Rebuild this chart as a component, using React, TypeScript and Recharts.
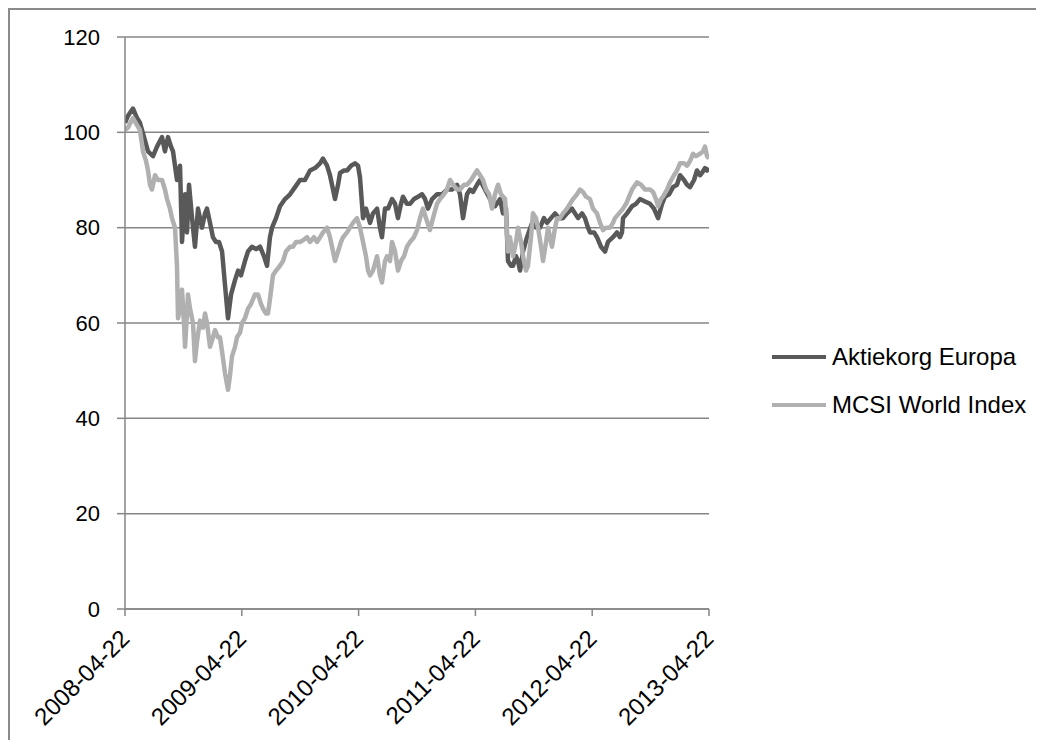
import React from "react";
import { LineChart, Line, XAxis, YAxis, CartesianGrid } from "recharts";

// x = years since 2008-04-22
const tickLabels = ["2008-04-22", "2009-04-22", "2010-04-22", "2011-04-22", "2012-04-22", "2013-04-22"];
const xTicks = [0, 1, 2, 3, 4, 5];
const yTicks = [0, 20, 40, 60, 80, 100, 120];
const seriesNames = ["Aktiekorg Europa", "MCSI World Index"];

const europaT = [
  0.000, 0.026, 0.068, 0.103, 0.128, 0.163, 0.197, 0.240, 0.274, 0.317, 0.342, 0.368, 0.394, 0.411, 0.445,
  0.471, 0.488, 0.514, 0.531, 0.548, 0.574, 0.599, 0.625, 0.659, 0.685, 0.702, 0.728, 0.753, 0.779, 0.805,
  0.831, 0.856, 0.882, 0.908, 0.942, 0.968, 0.993, 1.027, 1.053, 1.087, 1.122, 1.156, 1.190, 1.216, 1.241,
  1.259, 1.293, 1.327, 1.370, 1.413, 1.456, 1.498, 1.541, 1.584, 1.627, 1.670, 1.695, 1.730, 1.755, 1.781,
  1.798, 1.824, 1.841, 1.875, 1.901, 1.935, 1.969, 1.995, 2.012, 2.038, 2.063, 2.098, 2.123, 2.158, 2.183,
  2.200, 2.226, 2.252, 2.286, 2.312, 2.337, 2.363, 2.380, 2.414, 2.440, 2.474, 2.509, 2.543, 2.569, 2.594,
  2.629, 2.671, 2.714, 2.757, 2.800, 2.843, 2.868, 2.894, 2.928, 2.954, 2.980, 3.014, 3.040, 3.082, 3.125,
  3.168, 3.211, 3.236, 3.262, 3.279, 3.305, 3.322, 3.348, 3.365, 3.382, 3.408, 3.442, 3.485, 3.519, 3.553,
  3.587, 3.613, 3.647, 3.682, 3.716, 3.750, 3.784, 3.827, 3.853, 3.879, 3.913, 3.938, 3.964, 3.981, 4.016,
  4.041, 4.075, 4.110, 4.135, 4.178, 4.212, 4.238, 4.255, 4.264, 4.298, 4.341, 4.375, 4.409, 4.452, 4.495,
  4.529, 4.564, 4.598, 4.623, 4.658, 4.692, 4.726, 4.752, 4.786, 4.812, 4.838, 4.872, 4.897, 4.923, 4.940,
  4.966, 4.983, 5.000,
];
const europaValues = [
  102, 103.5, 105, 103, 102, 99, 96, 95, 97, 99, 96, 99, 97, 96, 90,
  93, 77, 87, 79, 89, 82, 76, 84, 80, 83, 84, 81, 78, 77, 77,
  75, 68, 61, 66, 69, 71, 70, 73, 75, 76, 75.5, 76, 74, 72, 78,
  80, 82, 84.5, 86, 87, 88.5, 90, 90, 92, 92.5, 93.5, 94.5, 93, 91, 88,
  86, 89, 91.5, 92, 92, 93, 93.5, 93, 90.5, 82, 84, 81, 83, 84, 80,
  78, 84, 84, 86, 85, 82, 85, 86.5, 85, 85, 86, 86.5, 87, 86, 84,
  86, 87, 87, 88, 88, 89, 87, 82, 87, 88, 87.5, 89, 90, 88, 86,
  84.5, 86, 83, 84, 73, 72, 72, 74, 73, 71, 75, 78, 81, 80, 80,
  82, 81, 82, 83, 82, 82, 83, 84, 83, 82, 83, 82, 80, 79, 79,
  78, 76, 75, 77, 78, 79, 78, 79, 82, 83, 84.5, 85, 86, 85.5, 85,
  84, 82, 85, 86.5, 87, 88.5, 89, 91, 90, 89, 88.5, 90, 92, 91, 91.5,
  92.5, 92, 92.5,
];

const worldT = [
  0.000, 0.026, 0.068, 0.103, 0.128, 0.154, 0.180, 0.197, 0.214, 0.231, 0.257, 0.283, 0.317, 0.342, 0.360,
  0.385, 0.402, 0.428, 0.445, 0.454, 0.471, 0.488, 0.505, 0.514, 0.531, 0.539, 0.557, 0.582, 0.599, 0.616,
  0.642, 0.668, 0.685, 0.702, 0.728, 0.753, 0.771, 0.796, 0.813, 0.831, 0.856, 0.882, 0.899, 0.916, 0.942,
  0.959, 0.985, 1.002, 1.027, 1.053, 1.079, 1.096, 1.113, 1.139, 1.164, 1.182, 1.207, 1.224, 1.241, 1.267,
  1.293, 1.327, 1.353, 1.378, 1.413, 1.438, 1.464, 1.498, 1.533, 1.558, 1.584, 1.618, 1.644, 1.670, 1.695,
  1.730, 1.755, 1.781, 1.798, 1.824, 1.849, 1.867, 1.901, 1.926, 1.952, 1.986, 2.012, 2.038, 2.063, 2.081,
  2.098, 2.123, 2.158, 2.183, 2.200, 2.226, 2.243, 2.269, 2.286, 2.312, 2.337, 2.363, 2.389, 2.414, 2.440,
  2.474, 2.500, 2.526, 2.551, 2.577, 2.611, 2.637, 2.671, 2.697, 2.731, 2.757, 2.783, 2.808, 2.843, 2.868,
  2.903, 2.928, 2.963, 2.988, 3.014, 3.040, 3.065, 3.091, 3.117, 3.142, 3.168, 3.194, 3.219, 3.254, 3.279,
  3.296, 3.322, 3.348, 3.365, 3.391, 3.408, 3.433, 3.450, 3.476, 3.493, 3.519, 3.536, 3.562, 3.579, 3.605,
  3.622, 3.647, 3.656, 3.682, 3.699, 3.724, 3.750, 3.784, 3.810, 3.836, 3.870, 3.896, 3.921, 3.947, 3.981,
  4.007, 4.041, 4.067, 4.093, 4.118, 4.153, 4.178, 4.195, 4.230, 4.264, 4.290, 4.307, 4.341, 4.384, 4.418,
  4.452, 4.495, 4.521, 4.546, 4.564, 4.589, 4.606, 4.641, 4.666, 4.700, 4.726, 4.752, 4.786, 4.812, 4.838,
  4.863, 4.889, 4.923, 4.949, 4.966, 4.983, 5.000,
];
const worldValues = [
  100.5, 101, 103, 101.5, 100.5, 96, 94, 92, 89, 88, 91, 90, 90, 88, 86,
  84, 82, 80, 72, 61, 63, 67, 60, 55, 62, 66, 63, 60, 52, 56,
  60.5, 59, 62, 60, 55, 57, 58.5, 57, 57, 54, 49.5, 46, 49, 53, 55,
  57, 58, 60, 61, 63, 64, 65, 66, 66, 64, 63, 62, 62, 65, 70,
  71, 72, 73, 75, 76, 76, 77, 77, 77.5, 78, 77, 78, 77, 78, 79,
  80, 78, 75, 73, 75, 77, 78, 79, 80, 81, 82, 80, 77, 74, 71,
  70, 71, 74, 70, 68.5, 73, 74, 73, 77, 75, 71, 73, 74, 76, 77,
  78, 79.5, 82, 84, 82, 79.5, 82, 85, 86, 87, 88, 90, 89, 88, 88,
  89, 89, 90, 91, 92, 91, 90, 88, 87, 84, 87, 89, 87, 86, 75,
  78, 74, 77, 80, 77, 74, 71, 72, 78, 83, 82, 80, 76, 73, 77,
  80, 77, 76, 80, 82, 82, 83, 84, 85, 86, 87, 88, 87.5, 86.5, 86,
  84, 83, 81, 79.5, 80, 80, 81, 82, 83, 84, 85, 86, 88, 89.5, 89,
  88, 88, 87.5, 86, 84.5, 86, 86.5, 88, 89.5, 91, 92, 93.5, 93.5, 93, 94,
  95.5, 95, 95.5, 96, 97, 95, 94.5,
];

const europaData = europaT.map((t, i) => ({ t, v: europaValues[i] }));
const worldData = worldT.map((t, i) => ({ t, v: worldValues[i] }));

const FONT = "'Liberation Sans', Arial, sans-serif";
const DARK = "#595959";
const LIGHT = "#b0b0b0";
const GRID = "#868686";

const XTick = (props: any) => {
  const { x, y, payload } = props;
  const label = tickLabels[xTicks.indexOf(payload.value)] ?? "";
  return (
    <g transform={`translate(${x + 6},${y + 22})`}>
      <text x={0} y={0} textAnchor="end" transform="rotate(-45)" fontFamily={FONT} fontSize={24} fill="#000">
        {label}
      </text>
    </g>
  );
};

export default function App() {
  return (
    <div
      style={{
        position: "relative",
        width: 1034,
        height: 730,
        borderTop: "2px solid #8a8a8a",
        borderLeft: "2px solid #8a8a8a",
        background: "#fff",
      }}
    >
      <LineChart
        width={1030}
        height={730}
        margin={{ top: 27, right: 331, left: 0, bottom: 31 }}
      >
        <CartesianGrid vertical={false} stroke={GRID} strokeWidth={1.5} />
        <XAxis
          dataKey="t"
          type="number"
          domain={[0, 5]}
          ticks={xTicks}
          allowDataOverflow
          height={100}
          tickSize={7}
          tick={<XTick />}
          axisLine={{ stroke: GRID, strokeWidth: 1.5 }}
          tickLine={{ stroke: GRID, strokeWidth: 1.5 }}
          interval={0}
        />
        <YAxis
          type="number"
          domain={[0, 120]}
          ticks={yTicks}
          width={115}
          tickSize={8}
          tickMargin={17}
          axisLine={{ stroke: GRID, strokeWidth: 1.5 }}
          tickLine={{ stroke: GRID, strokeWidth: 1.5 }}
          tick={{ fontFamily: FONT, fontSize: 22, fill: "#000" }}
          interval={0}
        />
        <Line
          data={europaData}
          dataKey="v"
          name={seriesNames[0]}
          stroke={DARK}
          strokeWidth={4.5}
          dot={false}
          isAnimationActive={false}
          strokeLinejoin="round"
        />
        <Line
          data={worldData}
          dataKey="v"
          name={seriesNames[1]}
          stroke={LIGHT}
          strokeWidth={4.5}
          dot={false}
          isAnimationActive={false}
          strokeLinejoin="round"
        />
      </LineChart>
      <div
        style={{
          position: "absolute",
          left: 762,
          top: 323,
          fontFamily: FONT,
          fontSize: 24,
          color: "#000",
        }}
      >
        {seriesNames.map((name, i) => (
          <div key={name} style={{ display: "flex", alignItems: "center", height: 48 }}>
            <svg width={54} height={6} style={{ display: "block" }}>
              <line x1={0} y1={3} x2={54} y2={3} stroke={i === 0 ? DARK : LIGHT} strokeWidth={4} />
            </svg>
            <span style={{ marginLeft: 6, whiteSpace: "nowrap" }}>{name}</span>
          </div>
        ))}
      </div>
    </div>
  );
}
